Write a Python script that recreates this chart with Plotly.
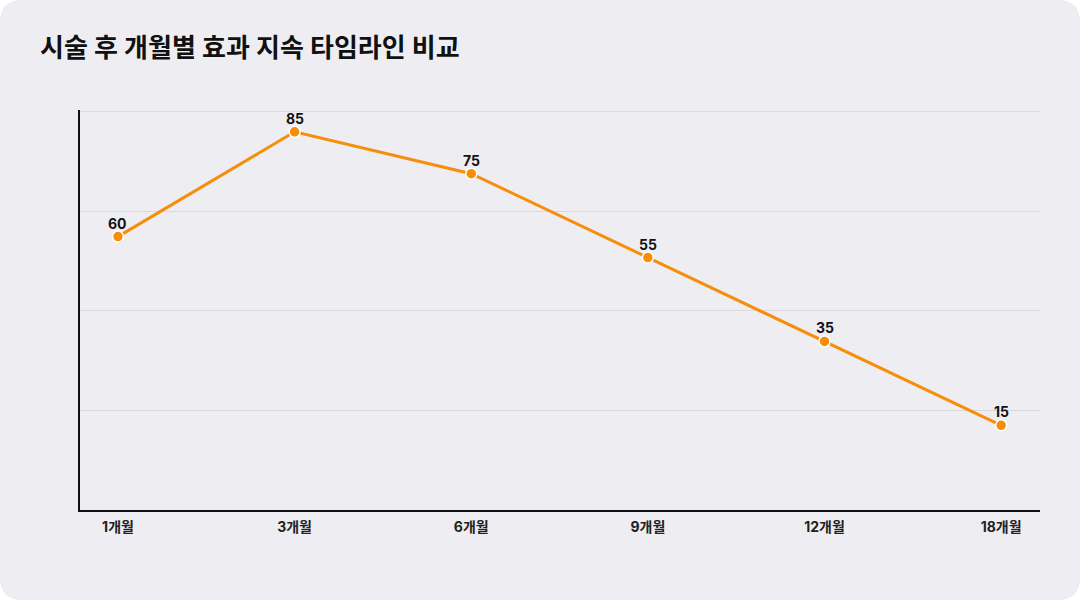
import plotly.graph_objects as go

months = ["1개월", "3개월", "6개월", "9개월", "12개월", "18개월"]
effect = [60, 85, 75, 55, 35, 15]
title_text = "시술 후 개월별 효과 지속 타임라인 비교"

W, H = 1080, 600
L, R, T, B = 80, 40, 110, 90
pw, ph = W - L - R, H - T - B

def px_x(p):
    return (p - L) / pw

def px_y(p):
    return (H - B - p) / ph

# rounded card background path in paper coords
r = 22
x0, y0, x1, y1 = 0, 0, W, H
path = (
    f"M {px_x(x0 + r)},{px_y(y0)} L {px_x(x1 - r)},{px_y(y0)} "
    f"Q {px_x(x1)},{px_y(y0)} {px_x(x1)},{px_y(y0 + r)} "
    f"L {px_x(x1)},{px_y(y1 - r)} Q {px_x(x1)},{px_y(y1)} {px_x(x1 - r)},{px_y(y1)} "
    f"L {px_x(x0 + r)},{px_y(y1)} Q {px_x(x0)},{px_y(y1)} {px_x(x0)},{px_y(y1 - r)} "
    f"L {px_x(x0)},{px_y(y0 + r)} Q {px_x(x0)},{px_y(y0)} {px_x(x0 + r)},{px_y(y0)} Z"
)

font = "Inter, Noto Sans CJK KR, sans-serif"

fig = go.Figure()
fig.add_trace(go.Scatter(
    x=months, y=effect, mode="lines+markers",
    line=dict(color="#F68E0C", width=3),
    marker=dict(color="#F68E0C", size=11, line=dict(color="white", width=1.5)),
    cliponaxis=False, hoverinfo="skip",
))

annotations = [
    dict(x=m, y=v, text=f"<b>{v}</b>", showarrow=False, xanchor="center", yanchor="bottom",
         yshift=3, font=dict(family=font, size=14, color="#111"))
    for m, v in zip(months, effect)
]

fig.update_layout(
    width=W, height=H,
    margin=dict(l=L, r=R, t=T, b=B),
    paper_bgcolor="white", plot_bgcolor="rgba(0,0,0,0)",
    showlegend=False,
    title=dict(text=f"<b>{title_text}</b>", x=40 / W, xanchor="left", y=1 - 48 / H, yanchor="middle",
               font=dict(family=font, size=26, color="#111")),
    shapes=[dict(type="path", path=path, xref="paper", yref="paper",
                 fillcolor="#EEEEF2", line=dict(width=0), layer="below")],
    annotations=annotations,
)
fig.update_xaxes(
    type="category", range=[-0.215, 5.22],
    showgrid=False, showline=True, linecolor="#111", linewidth=2,
    ticks="", ticklabelstandoff=3,
    tickfont=dict(family=font, size=14, color="#222", weight="bold"),
    zeroline=False, fixedrange=True,
)
fig.update_yaxes(
    range=[-5.2, 90.2], tick0=-5.2, dtick=23.75,
    showgrid=True, gridcolor="#D9D9DE", gridwidth=1,
    showline=True, linecolor="#111", linewidth=2,
    showticklabels=False, ticks="", zeroline=False, fixedrange=True,
)

fig.write_html(
    "out.html",
    config={"displayModeBar": False},
    post_script="document.body.style.margin='0';document.body.style.padding='0';",
)
